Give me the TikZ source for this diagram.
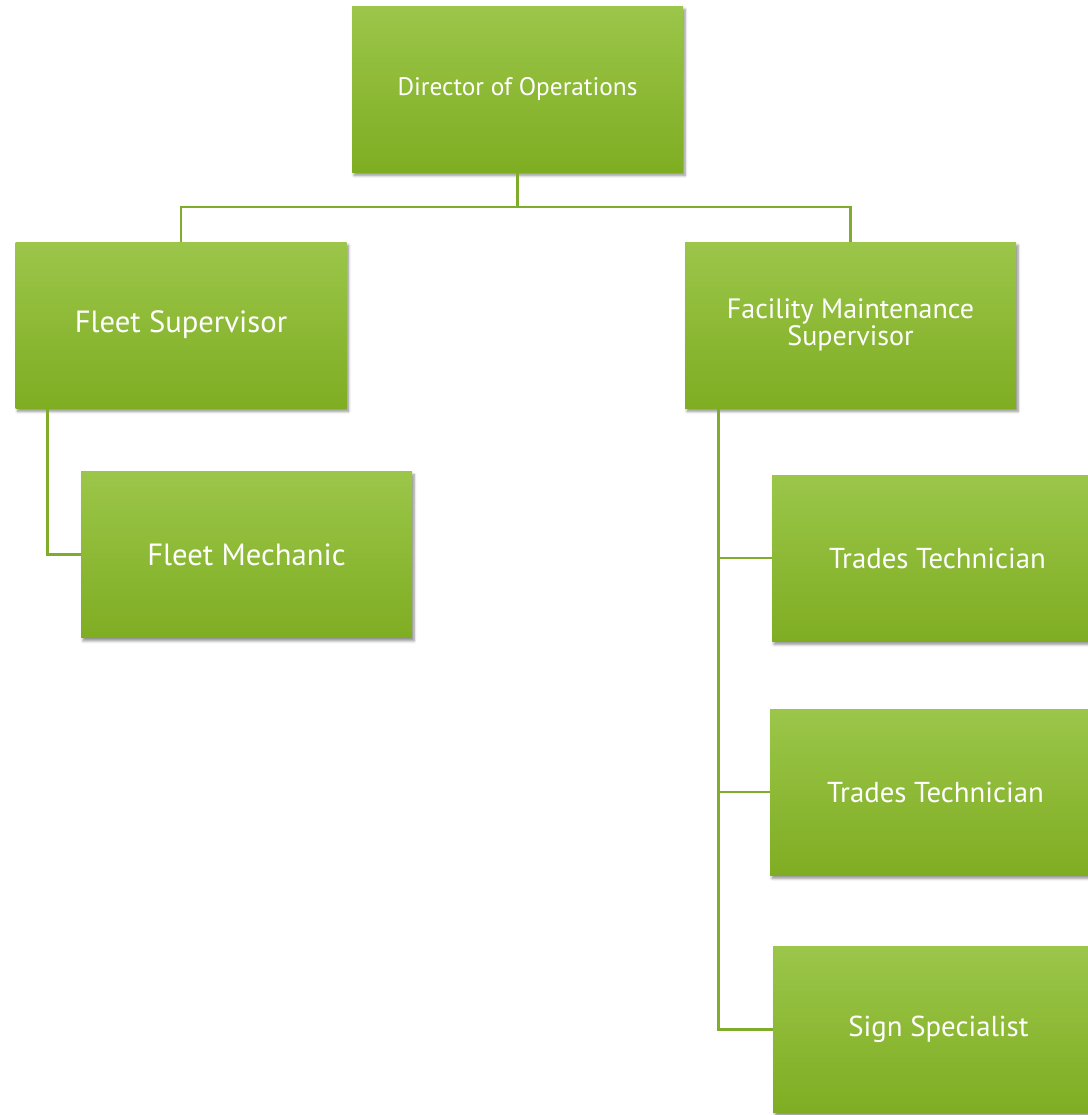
\documentclass[tikz,border=0pt]{standalone}
\usepackage{fontspec}
\setmainfont{PT Sans}
\usetikzlibrary{shadows.blur,calc}
\definecolor{boxtop}{HTML}{9BC64A}
\definecolor{boxbot}{HTML}{7FAD22}
\definecolor{lineg}{HTML}{80AC2C}
\tikzset{
  orgbox/.style={rectangle, minimum width=248.25pt, minimum height=124.5pt, inner sep=0pt,
    top color=boxtop, bottom color=boxbot, text=white, align=center,
    blur shadow={shadow xshift=1.5pt, shadow yshift=-2.5pt, shadow blur steps=6, shadow opacity=45}},
  conn/.style={draw=lineg, line width=2pt},
  small/.style={font=\fontsize{19}{20}\selectfont},
  fleet/.style={font=\fontsize{23}{24}\selectfont},
  big/.style={font=\fontsize{21.6}{22}\selectfont},
  mid/.style={font=\fontsize{21}{20.5}\selectfont},
}
\begin{document}
\begin{tikzpicture}[x=0.75pt,y=-0.75pt]
\useasboundingbox (0,0) rectangle (1088,1115);
\clip (0,0) rectangle (1088,1115);
\node[orgbox, small] (dir) at (517.5,89) {Director of Operations};
\node[orgbox, fleet] (fs) at (181,325) {Fleet Supervisor};
\node[orgbox, mid] (fms) at (850.5,325) {Facility Maintenance\\Supervisor};
\node[orgbox, fleet] (mech) at (246.5,554.5) {Fleet Mechanic};
\node[orgbox, big] (tt1) at (937.5,558) {Trades Technician};
\node[orgbox, big] (tt2) at (935.5,792) {Trades Technician};
\node[orgbox, big] (sign) at (938.5,1029.5) {Sign Specialist};
\coordinate (bus) at (0,207);
\coordinate (fsdrop) at ($(fs.south west)+(32,0)$);
\coordinate (fmsdrop) at ($(fms.south west)+(34,0)$);
\draw[conn] (dir.south) -- (dir.south |- bus) -| (fs.north);
\draw[conn] (dir.south |- bus) -| (fms.north);
\draw[conn] (fsdrop) |- (mech.west);
\draw[conn] (fmsdrop) |- (sign.west);
\draw[conn] (fmsdrop) |- (tt1.west);
\draw[conn] (fmsdrop) |- (tt2.west);
\end{tikzpicture}
\end{document}
